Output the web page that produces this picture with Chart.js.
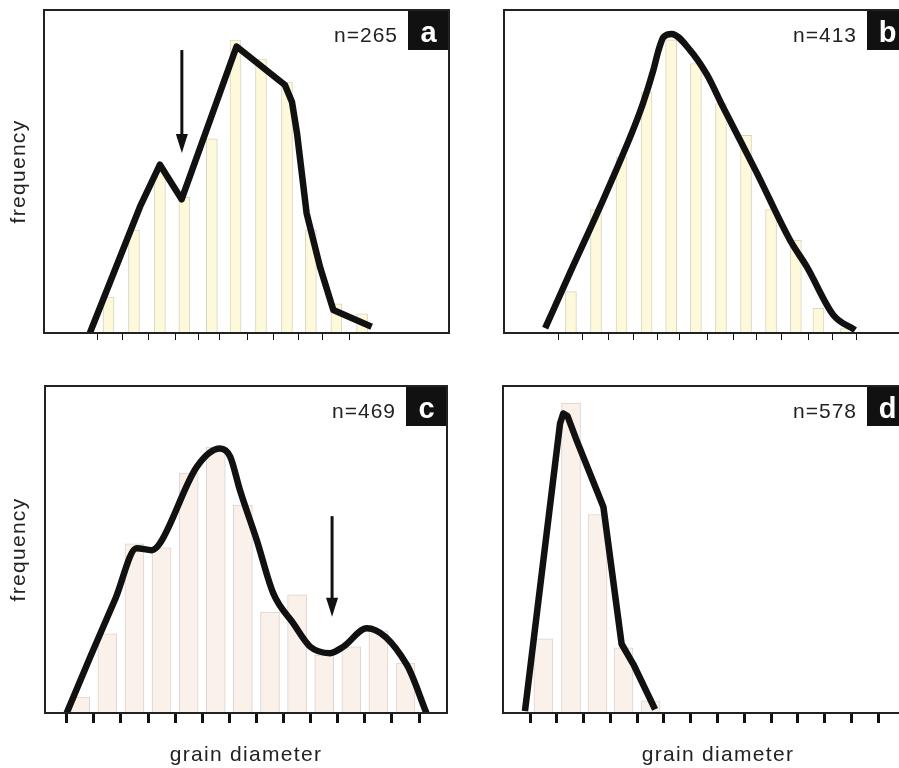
<!DOCTYPE html>
<html>
<head>
<meta charset="utf-8">
<script src="https://cdn.jsdelivr.net/npm/chart.js@4.4.1/dist/chart.umd.min.js"></script>
<style>
  html, body { margin: 0; padding: 0; background: #fff; width: 899px; height: 768px; overflow: hidden; }
  canvas { position: absolute; }
</style>
</head>
<body>
<canvas id="chartA" width="460" height="345" style="left:0px;top:0px"></canvas>
<canvas id="chartB" width="455" height="345" style="left:490px;top:0px"></canvas>
<canvas id="chartC" width="460" height="392" style="left:0px;top:376px"></canvas>
<canvas id="chartD" width="455" height="392" style="left:490px;top:376px"></canvas>
<script>
// panel a (n=265)
const ticksA = [0, 0.99, 2.02, 3.06, 4.01, 4.84, 5.95, 6.98, 7.94, 8.93, 10.0];
const binsA = [0.42, 1.43, 2.46, 3.43, 4.52, 5.46, 6.47, 7.5, 8.45, 9.46, 10.48];
const freqA = [11.1, 31.9, 50, 42, 60.1, 90.7, 84.8, 77.7, 31.9, 9.0, 5.9];
const curveAx = [-0.32, 1.67, 2.46, 3.32, 5.5, 7.42, 7.7, 7.9, 8.28, 8.81, 9.34, 10.86];
const curveAy = [0, 39.1, 52.1, 41.4, 88.7, 76.8, 71.5, 61.8, 37.1, 20.5, 7.1, 1.95];

// panel b (n=413)
const ticksB = [0, 0.97, 2.02, 3.06, 3.99, 4.88, 6.01, 7.06, 8.02, 9.03, 10.08, 11.05, 12.02];
const binsB = [0.52, 1.53, 2.56, 3.57, 4.56, 5.56, 6.57, 7.58, 8.59, 9.59, 10.5, 11.6];
const freqB = [12.8, 38.2, 54.5, 74.6, 90.8, 83.4, 71.0, 61.2, 38.2, 28.7, 7.6, 1.4];
const curveBx = [-0.52, 0.48, 1.69, 3.02, 3.43, 3.84, 4.05, 4.25, 4.58, 5.32, 6.01, 6.65, 8.02, 9.35, 10.04, 11.1, 11.98];
const curveBy = [1.5, 18.6, 39.0, 62.8, 71.2, 81.3, 87.5, 91.6, 92.6, 87.6, 79.9, 70.0, 49.5, 28.8, 20.4, 5.6, 0.9];

// panel c (n=469)
const ticksC = [0, 1, 2, 3, 4, 5, 6, 7, 8, 9, 10, 11, 12, 13];
const binsC = [0.5, 1.5, 2.5, 3.5, 4.5, 5.5, 6.5, 7.5, 8.5, 9.5, 10.5, 11.5, 12.5];
const freqC = [4.9, 24.2, 51.7, 50.5, 73.4, 81.3, 63.6, 30.9, 36.1, 17.7, 20.2, 25.1, 15.3];
const curveCx = [0, 0.86, 1.8, 2.58, 3.14, 3.44, 4.8, 5.66, 6.03, 6.39, 7.01, 7.62, 8.36, 8.98, 9.72, 10.21, 11.07, 12.55, 13.27];
const curveCy = [0, 17.0, 35.0, 50.4, 49.8, 51.9, 75.3, 80.9, 78.4, 68.2, 52.9, 36.6, 27.4, 20.3, 18.3, 20.3, 25.9, 14.7, 0];

// panel d (n=578)
const ticksD = [0, 1, 2, 3, 4, 5, 6, 7, 8, 9, 10, 11, 12, 13];
const binsD = [0.5, 1.53, 2.52, 3.49, 4.5];
const freqD = [22.7, 94.8, 60.7, 19.9, 3.7];
const curveDx = [-0.19, 1.12, 1.24, 1.4, 1.74, 2.49, 2.74, 3.42, 3.86, 4.67];
const curveDy = [0.6, 88.5, 91.6, 90.8, 83.4, 68.1, 63.0, 21.1, 14.9, 1.1];

// arrows marking the minima (x, from, to)
const arrowA = { x: 3.33, from: 87.6, to: 55.7 };
const arrowC = { x: 9.79, from: 60.2, to: 29.4 };

const FONT = '"Liberation Sans", Arial, sans-serif';

const panelDecor = {
  id: "panelDecor",
  beforeDraw(chart) {
    chart.ctx.letterSpacing = "1.3px";
  },
  afterDatasetsDraw(chart, args, opts) {
    const { ctx, scales: { x, y } } = chart;
    if (!opts.arrow) return;
    const px = x.getPixelForValue(opts.arrow.x);
    const y0 = y.getPixelForValue(opts.arrow.from);
    const y1 = y.getPixelForValue(opts.arrow.to);
    ctx.save();
    ctx.fillStyle = "#111";
    ctx.fillRect(px - 1.5, y0, 3, y1 - y0 - 16);
    ctx.beginPath();
    ctx.moveTo(px - 6, y1 - 19);
    ctx.lineTo(px + 6, y1 - 19);
    ctx.lineTo(px, y1);
    ctx.closePath();
    ctx.fill();
    ctx.restore();
  },
  afterDraw(chart, args, opts) {
    const { ctx, chartArea: { left, top, right, bottom } } = chart;
    ctx.save();
    const bx = right - opts.inset - 41;
    ctx.fillStyle = "#111";
    ctx.fillRect(bx, top, 41, 40);
    ctx.letterSpacing = "0px";
    ctx.fillStyle = "#fff";
    ctx.font = "bold 29px " + FONT;
    ctx.textAlign = "center";
    ctx.textBaseline = "alphabetic";
    ctx.fillText(opts.letter, bx + 20.5, top + 32);
    ctx.letterSpacing = "1px";
    ctx.fillStyle = "#222";
    ctx.font = "21px " + FONT;
    ctx.textAlign = "right";
    ctx.fillText(opts.count, bx - 10, top + 32);
    ctx.strokeStyle = "#222";
    ctx.lineWidth = 2;
    ctx.strokeRect(left, top, right - left, bottom - top);
    ctx.restore();
  },
};

const makePanel = (id, p) => {
  const bars = p.bins.map((x, i) => ({ x, y: p.freq[i] }));
  const curve = p.curveX.map((x, i) => ({ x, y: p.curveY[i] }));
  const line = {
    type: "line",
    data: curve,
    order: 0,
    borderColor: "#111",
    borderWidth: 6.5,
    borderJoinStyle: "round",
    pointRadius: 0,
    tension: 0,
  };
  if (p.smooth) line.cubicInterpolationMode = "monotone";
  const config = {
    type: "bar",
    data: {
      datasets: [
        line,
        {
          type: "bar",
          data: bars,
          order: 1,
          backgroundColor: p.barColor,
          borderColor: p.barBorder,
          borderWidth: 1,
          barThickness: p.barThickness,
        },
      ],
    },
    options: {
      responsive: false,
      animation: false,
      events: [],
      layout: { autoPadding: false, padding: p.padding },
      plugins: {
        legend: { display: false },
        tooltip: { enabled: false },
        panelDecor: { letter: p.letter, count: p.count, inset: p.inset, arrow: p.arrow },
      },
      scales: {
        x: {
          type: "linear",
          min: p.xMin,
          max: p.xMax,
          offset: false,
          afterBuildTicks: (axis) => {
            axis.ticks = p.ticks.map((v) => ({ value: v }));
          },
          ticks: { display: false },
          border: { display: false },
          grid: {
            offset: false,
            drawOnChartArea: false,
            tickLength: p.tickLength,
            tickWidth: p.tickWidth,
            tickColor: "#111",
          },
          title: {
            display: p.xTitle,
            text: "grain diameter",
            color: "#222",
            font: { family: FONT, size: 21 },
            padding: { top: 19.8, bottom: 0 },
          },
        },
        y: {
          display: p.yTitle,
          min: 0,
          max: 100,
          ticks: { display: false },
          grid: { display: false },
          border: { display: false },
          title: {
            display: true,
            text: "frequency",
            color: "#222",
            font: { family: FONT, size: 21 },
            padding: { top: 7, bottom: p.yPad },
          },
        },
      },
    },
    plugins: [panelDecor],
  };
  return new Chart(document.getElementById(id), config);
};

const yellow = "#fdf9da";
const yellowEdge = "#d8d5c2";
const pink = "#faf1ea";
const pinkEdge = "#dad3cf";

makePanel("chartA", {
  ticks: ticksA, bins: binsA, freq: freqA, curveX: curveAx, curveY: curveAy,
  xMin: -2.14, xMax: 13.93, letter: "a", count: "n=265", inset: 0, arrow: arrowA,
  barColor: yellow, barBorder: yellowEdge, barThickness: 11, smooth: false,
  tickLength: 7, tickWidth: 1, xTitle: false, yTitle: true, yPad: 3.8,
  padding: { left: 0, top: 10, right: 11, bottom: 5 },
});

makePanel("chartB", {
  ticks: ticksB, bins: binsB, freq: freqB, curveX: curveBx, curveY: curveBy,
  xMin: -2.18, xMax: 15.12, letter: "b", count: "n=413", inset: 25, arrow: null,
  barColor: yellow, barBorder: yellowEdge, barThickness: 11, smooth: true,
  tickLength: 7, tickWidth: 1, xTitle: false, yTitle: false, yPad: 0,
  padding: { left: 14, top: 10, right: 12, bottom: 5 },
});

makePanel("chartC", {
  ticks: ticksC, bins: binsC, freq: freqC, curveX: curveCx, curveY: curveCy,
  xMin: -0.8, xMax: 14.03, letter: "c", count: "n=469", inset: 0, arrow: arrowC,
  barColor: pink, barBorder: pinkEdge, barThickness: 19, smooth: true,
  tickLength: 10, tickWidth: 3, xTitle: true, yTitle: true, yPad: 4.8,
  padding: { left: 0, top: 10, right: 13, bottom: 0 },
});

makePanel("chartD", {
  ticks: ticksD, bins: binsD, freq: freqD, curveX: curveDx, curveY: curveDy,
  xMin: -1.01, xMax: 15.05, letter: "d", count: "n=578", inset: 25, arrow: null,
  barColor: pink, barBorder: pinkEdge, barThickness: 19, smooth: false,
  tickLength: 10, tickWidth: 3, xTitle: true, yTitle: false, yPad: 0,
  padding: { left: 13, top: 10, right: 12, bottom: 0 },
});
</script>
</body>
</html>
